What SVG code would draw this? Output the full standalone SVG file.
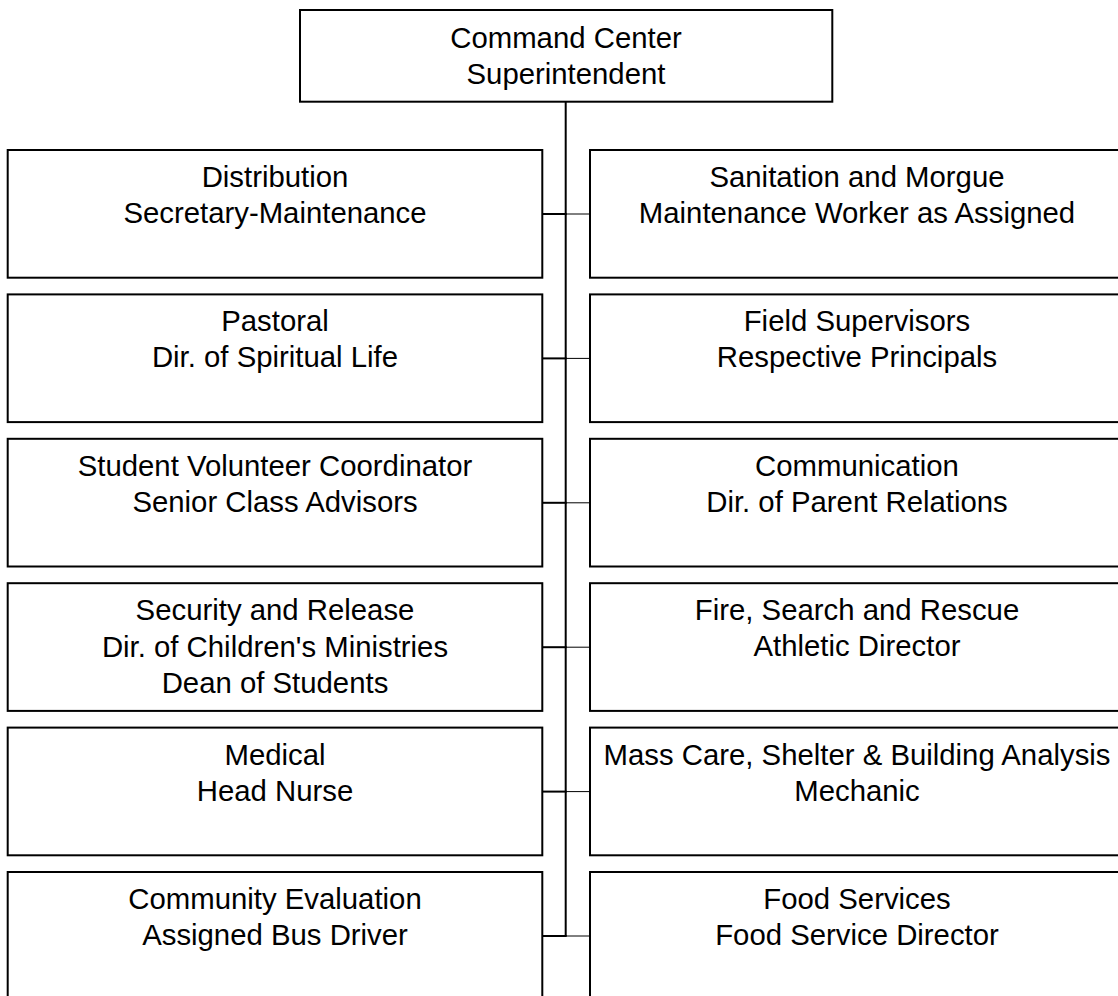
<svg xmlns="http://www.w3.org/2000/svg" width="1118" height="996" viewBox="0 0 1118 996">
<style>
.box{fill:#fff;stroke:#000;stroke-width:2}
.t{font-family:"Liberation Sans",Arial,sans-serif;font-size:29.33px;fill:#000;text-anchor:middle}
.c{stroke:#000;fill:none}
</style>
<rect width="1118" height="996" fill="#fff"/>
<g id="connectors">
<line class="c" stroke-width="2" x1="565.7" y1="101.7" x2="565.7" y2="936"/>
<g stroke-width="2" class="c">
<line x1="542.3" y1="214" x2="566.7" y2="214"/>
<line x1="542.3" y1="358.4" x2="566.7" y2="358.4"/>
<line x1="542.3" y1="502.8" x2="566.7" y2="502.8"/>
<line x1="542.3" y1="647.2" x2="566.7" y2="647.2"/>
<line x1="542.3" y1="791.6" x2="566.7" y2="791.6"/>
<line x1="542.3" y1="936" x2="566.7" y2="936"/>
</g>
<g stroke-width="1" class="c">
<line x1="565.7" y1="214" x2="590" y2="214"/>
<line x1="565.7" y1="358.4" x2="590" y2="358.4"/>
<line x1="565.7" y1="502.8" x2="590" y2="502.8"/>
<line x1="565.7" y1="647.2" x2="590" y2="647.2"/>
<line x1="565.7" y1="791.6" x2="590" y2="791.6"/>
<line x1="565.7" y1="936" x2="590" y2="936"/>
</g>
</g>
<g id="command">
<rect class="box" x="300" y="10" width="532.3" height="91.7"/>
<text class="t"><tspan x="566" y="48">Command Center</tspan><tspan x="566" y="84">Superintendent</tspan></text>
</g>
<g id="distribution">
<rect class="box" x="7.7" y="150" width="534.6" height="127.7"/>
<text class="t"><tspan x="275" y="187">Distribution</tspan><tspan x="275" y="223">Secretary-Maintenance</tspan></text>
</g>
<g id="pastoral">
<rect class="box" x="7.7" y="294.4" width="534.6" height="127.7"/>
<text class="t"><tspan x="275" y="331.4">Pastoral</tspan><tspan x="275" y="367.4">Dir. of Spiritual Life</tspan></text>
</g>
<g id="student">
<rect class="box" x="7.7" y="438.8" width="534.6" height="127.7"/>
<text class="t"><tspan x="275" y="475.8">Student Volunteer Coordinator</tspan><tspan x="275" y="511.8">Senior Class Advisors</tspan></text>
</g>
<g id="security">
<rect class="box" x="7.7" y="583.2" width="534.6" height="127.7"/>
<text class="t"><tspan x="275" y="620.2">Security and Release</tspan><tspan x="275" y="656.7">Dir. of Children's Ministries</tspan><tspan x="275" y="693.2">Dean of Students</tspan></text>
</g>
<g id="medical">
<rect class="box" x="7.7" y="727.6" width="534.6" height="127.7"/>
<text class="t"><tspan x="275" y="764.6">Medical</tspan><tspan x="275" y="800.6">Head Nurse</tspan></text>
</g>
<g id="community">
<rect class="box" x="7.7" y="872" width="534.6" height="127.7"/>
<text class="t"><tspan x="275" y="909">Community Evaluation</tspan><tspan x="275" y="945">Assigned Bus Driver</tspan></text>
</g>
<g id="sanitation">
<rect class="box" x="590" y="150" width="534.6" height="127.7"/>
<text class="t"><tspan x="857" y="187">Sanitation and Morgue</tspan><tspan x="857" y="223">Maintenance Worker as Assigned</tspan></text>
</g>
<g id="field">
<rect class="box" x="590" y="294.4" width="534.6" height="127.7"/>
<text class="t"><tspan x="857" y="331.4">Field Supervisors</tspan><tspan x="857" y="367.4">Respective Principals</tspan></text>
</g>
<g id="communication">
<rect class="box" x="590" y="438.8" width="534.6" height="127.7"/>
<text class="t"><tspan x="857" y="475.8">Communication</tspan><tspan x="857" y="511.8">Dir. of Parent Relations</tspan></text>
</g>
<g id="fire">
<rect class="box" x="590" y="583.2" width="534.6" height="127.7"/>
<text class="t"><tspan x="857" y="620.2">Fire, Search and Rescue</tspan><tspan x="857" y="656.2">Athletic Director</tspan></text>
</g>
<g id="masscare">
<rect class="box" x="590" y="727.6" width="534.6" height="127.7"/>
<text class="t"><tspan x="857" y="764.6">Mass Care, Shelter &amp; Building Analysis</tspan><tspan x="857" y="800.6">Mechanic</tspan></text>
</g>
<g id="food">
<rect class="box" x="590" y="872" width="534.6" height="127.7"/>
<text class="t"><tspan x="857" y="909">Food Services</tspan><tspan x="857" y="945">Food Service Director</tspan></text>
</g>
</svg>
